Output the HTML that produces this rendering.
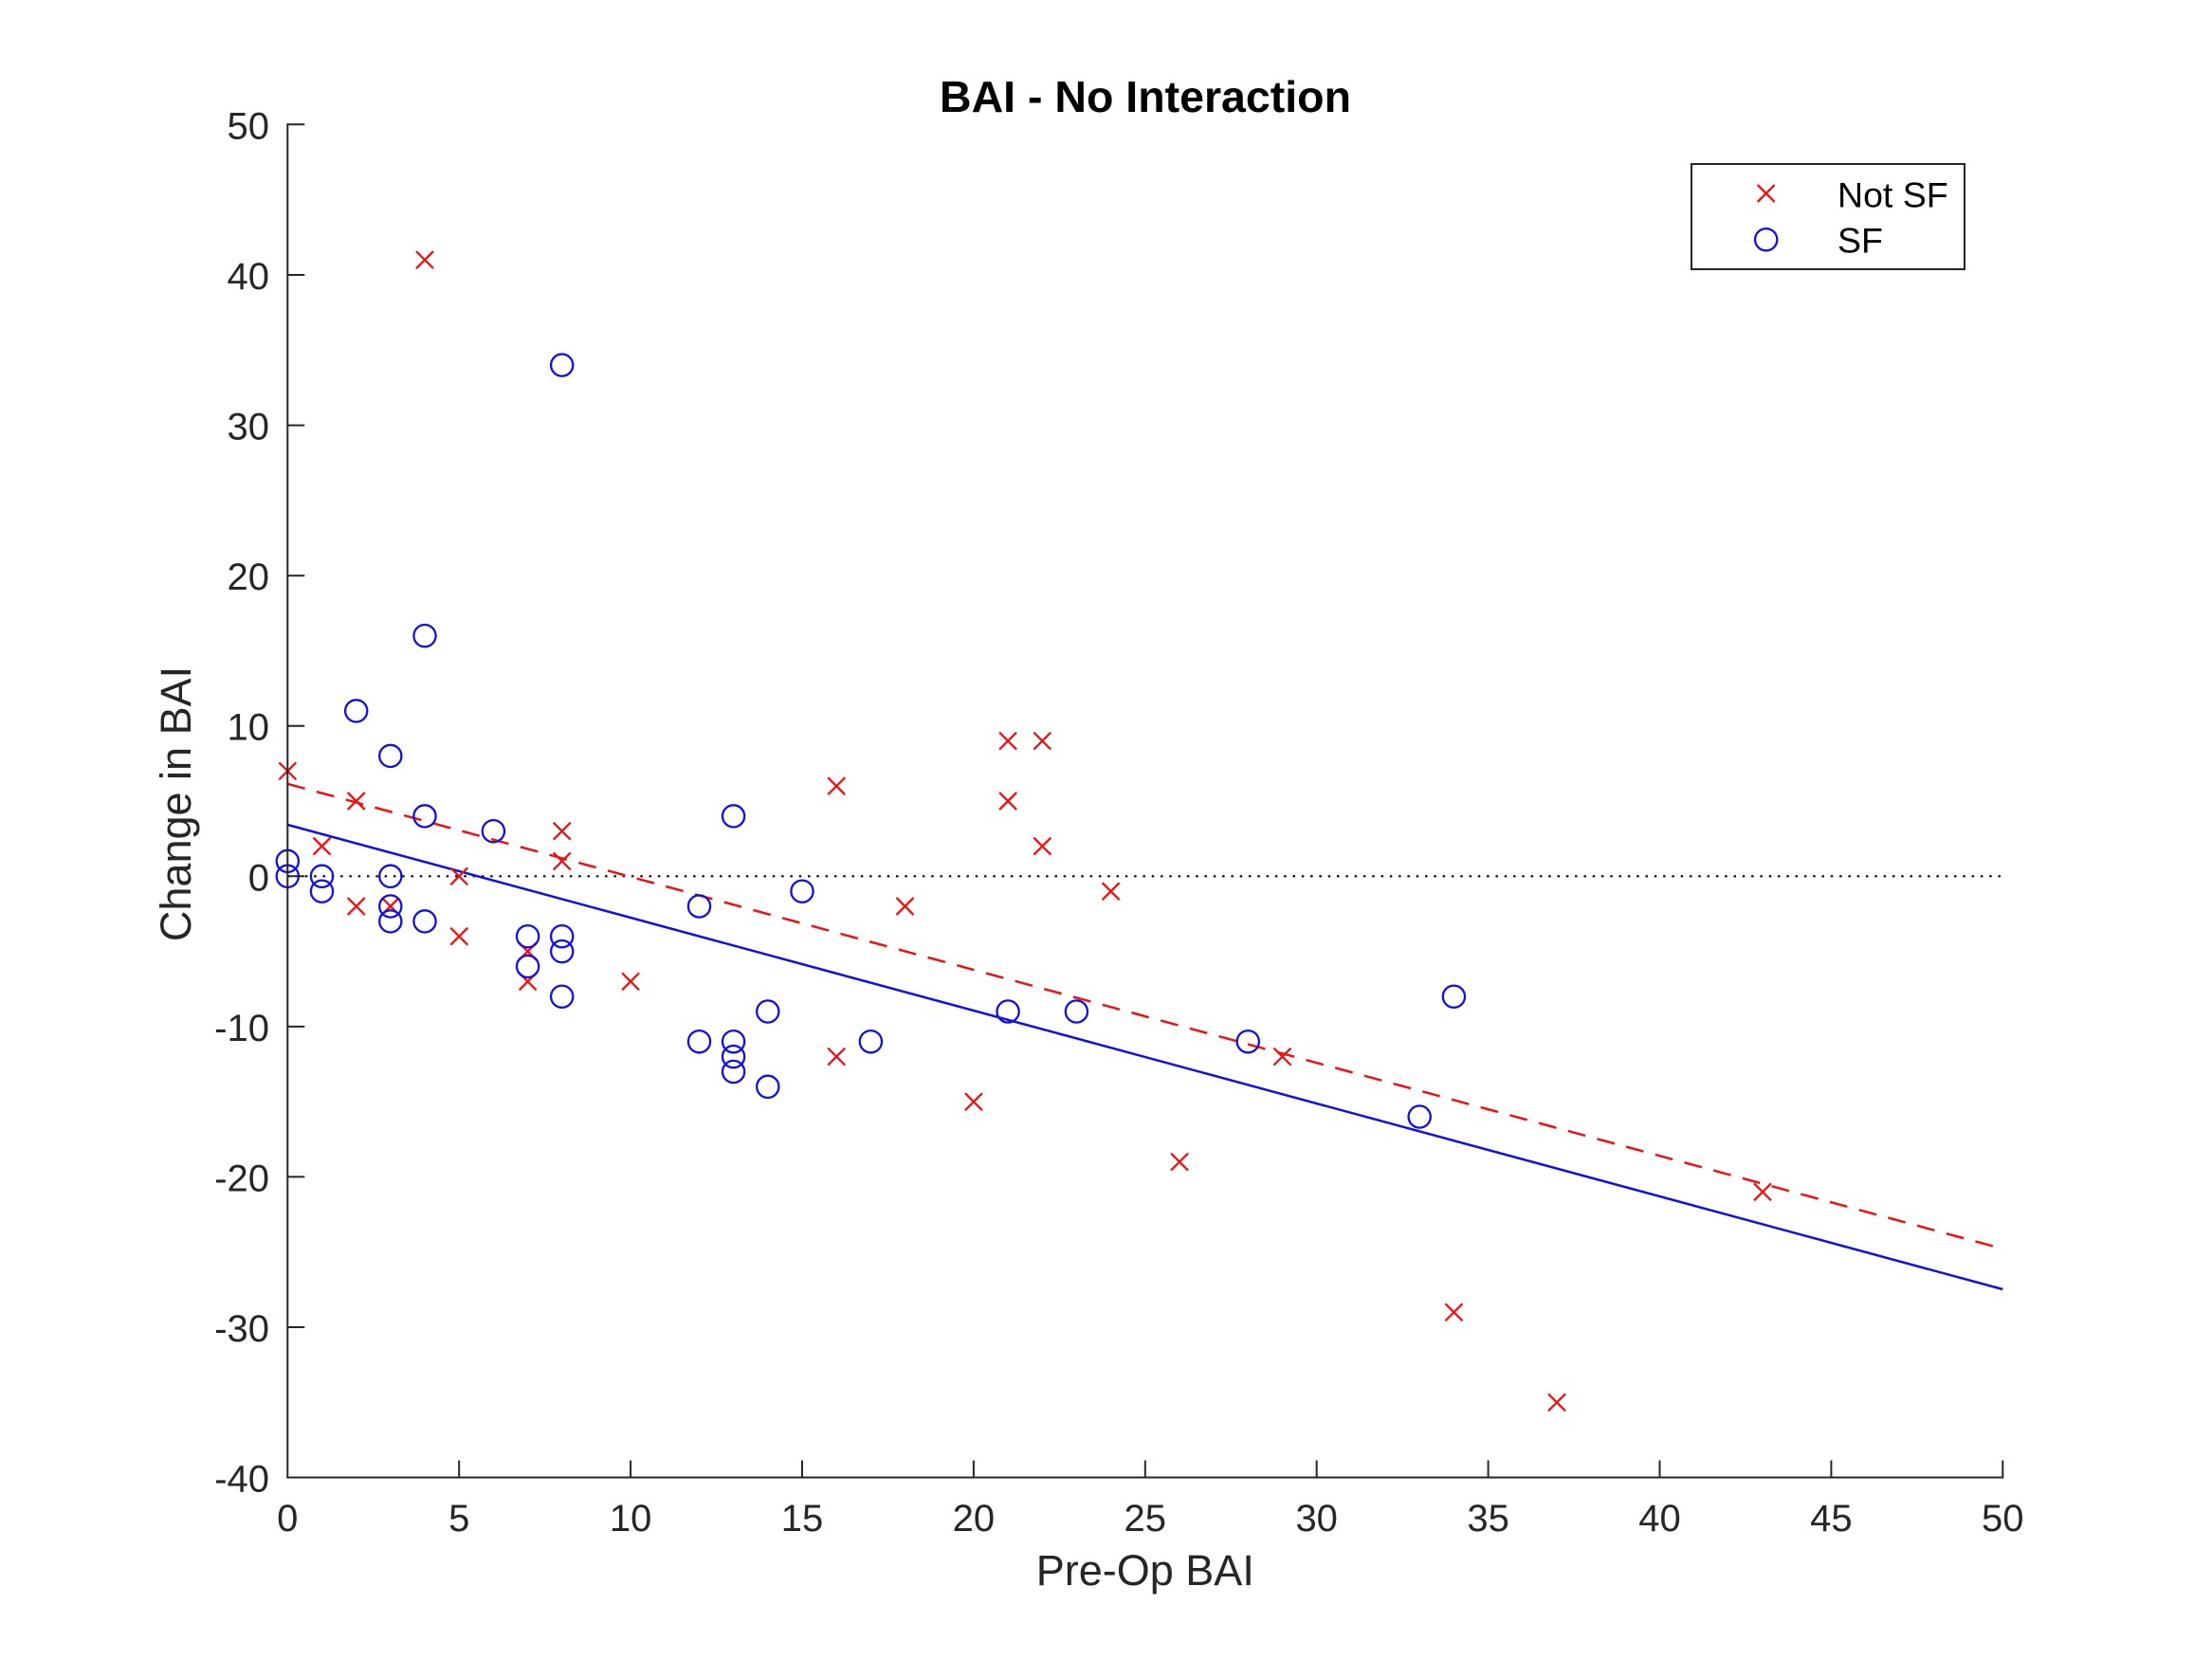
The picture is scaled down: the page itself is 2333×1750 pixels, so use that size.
<!DOCTYPE html>
<html>
<head>
<meta charset="utf-8">
<style>
  html, body { margin:0; padding:0; background:#ffffff; }
  svg { display:block; }
  text { font-family: "Liberation Sans", Arial, Helvetica, sans-serif; }
</style>
</head>
<body>
<svg width="2333" height="1750" viewBox="0 0 2333 1750" xmlns="http://www.w3.org/2000/svg">
  <rect x="0" y="0" width="2333" height="1750" fill="#ffffff"/>
  <defs>
    <g id="mx"><path d="M-9,-9 L9,9 M-9,9 L9,-9" stroke="#ee1111" stroke-width="2.3" fill="none"/></g>
    <g id="mo"><circle cx="0" cy="0" r="11.6" stroke="#1010e6" stroke-width="2.3" fill="none"/></g>
  </defs>

  <!-- Title -->
  <text x="1208" y="118" font-size="46.5" font-weight="bold" text-anchor="middle" fill="#000">BAI - No Interaction</text>

  <!-- zero dotted line -->
  <line x1="303.3" y1="924.3" x2="2112.3" y2="924.3" stroke="#000" stroke-width="2.2" stroke-dasharray="2.5 6.8"/>

  <!-- fit lines -->
  <line x1="303.3" y1="826.8" x2="2112.3" y2="1317.3" stroke="#ee1111" stroke-width="2.5" stroke-dasharray="19 12.8"/>
  <line x1="303.3" y1="870" x2="2112.3" y2="1360" stroke="#1010e6" stroke-width="2.5"/>

  <!-- Not SF markers -->
  <use href="#mx" x="448.0" y="274.1"/>
  <use href="#mx" x="303.3" y="813.3"/>
  <use href="#mx" x="339.5" y="892.6"/>
  <use href="#mx" x="375.7" y="845.0"/>
  <use href="#mx" x="375.7" y="956.0"/>
  <use href="#mx" x="411.8" y="956.0"/>
  <use href="#mx" x="484.2" y="924.3"/>
  <use href="#mx" x="484.2" y="987.7"/>
  <use href="#mx" x="556.6" y="1003.6"/>
  <use href="#mx" x="556.6" y="1035.3"/>
  <use href="#mx" x="592.7" y="876.7"/>
  <use href="#mx" x="592.7" y="908.4"/>
  <use href="#mx" x="665.1" y="1035.3"/>
  <use href="#mx" x="882.2" y="829.2"/>
  <use href="#mx" x="882.2" y="1114.6"/>
  <use href="#mx" x="954.5" y="956.0"/>
  <use href="#mx" x="1026.9" y="1162.2"/>
  <use href="#mx" x="1063.1" y="781.6"/>
  <use href="#mx" x="1063.1" y="845.0"/>
  <use href="#mx" x="1099.3" y="781.6"/>
  <use href="#mx" x="1099.3" y="892.6"/>
  <use href="#mx" x="1171.6" y="940.2"/>
  <use href="#mx" x="1244.0" y="1225.6"/>
  <use href="#mx" x="1352.5" y="1114.6"/>
  <use href="#mx" x="1533.4" y="1384.2"/>
  <use href="#mx" x="1642.0" y="1479.3"/>
  <use href="#mx" x="1859.0" y="1257.3"/>

  <!-- SF markers -->
  <use href="#mo" x="303.3" y="908.4"/>
  <use href="#mo" x="303.3" y="924.3"/>
  <use href="#mo" x="339.5" y="924.3"/>
  <use href="#mo" x="339.5" y="940.2"/>
  <use href="#mo" x="375.7" y="749.9"/>
  <use href="#mo" x="411.8" y="797.4"/>
  <use href="#mo" x="411.8" y="924.3"/>
  <use href="#mo" x="411.8" y="956.0"/>
  <use href="#mo" x="411.8" y="971.9"/>
  <use href="#mo" x="448.0" y="670.6"/>
  <use href="#mo" x="448.0" y="860.9"/>
  <use href="#mo" x="448.0" y="971.9"/>
  <use href="#mo" x="520.4" y="876.7"/>
  <use href="#mo" x="556.6" y="987.7"/>
  <use href="#mo" x="556.6" y="1019.4"/>
  <use href="#mo" x="592.7" y="385.1"/>
  <use href="#mo" x="592.7" y="987.7"/>
  <use href="#mo" x="592.7" y="1003.6"/>
  <use href="#mo" x="592.7" y="1051.2"/>
  <use href="#mo" x="737.5" y="956.0"/>
  <use href="#mo" x="737.5" y="1098.7"/>
  <use href="#mo" x="773.6" y="860.9"/>
  <use href="#mo" x="773.6" y="1098.7"/>
  <use href="#mo" x="773.6" y="1114.6"/>
  <use href="#mo" x="773.6" y="1130.5"/>
  <use href="#mo" x="809.8" y="1067.0"/>
  <use href="#mo" x="809.8" y="1146.3"/>
  <use href="#mo" x="846.0" y="940.2"/>
  <use href="#mo" x="918.4" y="1098.7"/>
  <use href="#mo" x="1063.1" y="1067.0"/>
  <use href="#mo" x="1135.4" y="1067.0"/>
  <use href="#mo" x="1316.3" y="1098.7"/>
  <use href="#mo" x="1497.2" y="1178.0"/>
  <use href="#mo" x="1533.4" y="1051.2"/>

  <!-- Axes -->
  <g stroke="#262626" stroke-width="2" fill="none">
    <line x1="303.3" y1="130.3" x2="303.3" y2="1559.5"/>
    <line x1="302.3" y1="1558.5" x2="2113.3" y2="1558.5"/>
    <!-- x ticks -->
    <line x1="484.2" y1="1558.5" x2="484.2" y2="1540.5"/>
    <line x1="665.1" y1="1558.5" x2="665.1" y2="1540.5"/>
    <line x1="846.0" y1="1558.5" x2="846.0" y2="1540.5"/>
    <line x1="1026.9" y1="1558.5" x2="1026.9" y2="1540.5"/>
    <line x1="1207.8" y1="1558.5" x2="1207.8" y2="1540.5"/>
    <line x1="1388.7" y1="1558.5" x2="1388.7" y2="1540.5"/>
    <line x1="1569.6" y1="1558.5" x2="1569.6" y2="1540.5"/>
    <line x1="1750.5" y1="1558.5" x2="1750.5" y2="1540.5"/>
    <line x1="1931.4" y1="1558.5" x2="1931.4" y2="1540.5"/>
    <line x1="2112.3" y1="1558.5" x2="2112.3" y2="1540.5"/>
    <!-- y ticks -->
    <line x1="303.3" y1="131.3" x2="321.3" y2="131.3"/>
    <line x1="303.3" y1="290.0" x2="321.3" y2="290.0"/>
    <line x1="303.3" y1="448.6" x2="321.3" y2="448.6"/>
    <line x1="303.3" y1="607.2" x2="321.3" y2="607.2"/>
    <line x1="303.3" y1="765.7" x2="321.3" y2="765.7"/>
    <line x1="303.3" y1="924.3" x2="321.3" y2="924.3"/>
    <line x1="303.3" y1="1082.9" x2="321.3" y2="1082.9"/>
    <line x1="303.3" y1="1241.4" x2="321.3" y2="1241.4"/>
    <line x1="303.3" y1="1400.0" x2="321.3" y2="1400.0"/>
    <line x1="303.3" y1="1558.5" x2="321.3" y2="1558.5"/>
  </g>

  <!-- x tick labels -->
  <g font-size="40" fill="#262626" text-anchor="middle">
    <text x="303.3" y="1615">0</text>
    <text x="484.2" y="1615">5</text>
    <text x="665.1" y="1615">10</text>
    <text x="846.0" y="1615">15</text>
    <text x="1026.9" y="1615">20</text>
    <text x="1207.8" y="1615">25</text>
    <text x="1388.7" y="1615">30</text>
    <text x="1569.6" y="1615">35</text>
    <text x="1750.5" y="1615">40</text>
    <text x="1931.4" y="1615">45</text>
    <text x="2112.3" y="1615">50</text>
  </g>

  <!-- y tick labels -->
  <g font-size="40" fill="#262626" text-anchor="end">
    <text x="284" y="146.3">50</text>
    <text x="284" y="305.0">40</text>
    <text x="284" y="463.6">30</text>
    <text x="284" y="622.2">20</text>
    <text x="284" y="780.7">10</text>
    <text x="284" y="939.3">0</text>
    <text x="284" y="1097.9">-10</text>
    <text x="284" y="1256.4">-20</text>
    <text x="284" y="1415.0">-30</text>
    <text x="284" y="1573.5">-40</text>
  </g>

  <!-- axis labels -->
  <text x="1207.8" y="1672" font-size="45" text-anchor="middle" fill="#262626">Pre-Op BAI</text>
  <text x="0" y="0" font-size="45" text-anchor="middle" fill="#262626" transform="translate(201,848) rotate(-90)">Change in BAI</text>

  <!-- Legend -->
  <rect x="1784" y="173" width="288" height="111" fill="#ffffff" stroke="#262626" stroke-width="2"/>
  <use href="#mx" x="1862.7" y="204"/>
  <use href="#mo" x="1862.7" y="252.7"/>
  <text x="1938" y="218.3" font-size="37.5" fill="#000">Not SF</text>
  <text x="1938" y="266.7" font-size="37.5" fill="#000">SF</text>
</svg>
</body>
</html>
